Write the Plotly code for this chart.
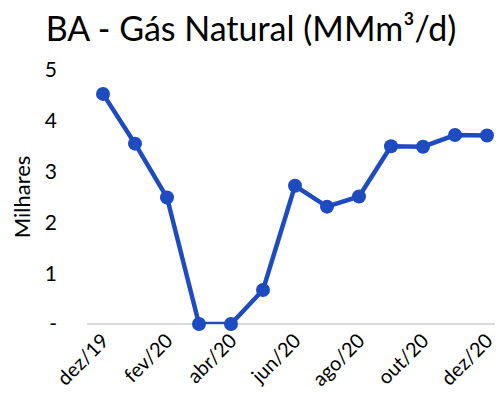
import plotly.graph_objects as go

categories = ["dez/19", "jan/20", "fev/20", "mar/20", "abr/20", "mai/20", "jun/20",
              "jul/20", "ago/20", "set/20", "out/20", "nov/20", "dez/20"]
values = [4.53, 3.55, 2.49, 0.0, 0.0, 0.67, 2.72, 2.31, 2.51, 3.50, 3.49, 3.72, 3.71]
y_tickvals = [0, 1, 2, 3, 4, 5]
y_ticktext = ["-", "1", "2", "3", "4", "5"]
x_tick_labels = categories[::2]

FONT = "Lato"
COLOR = "#1E4BC0"

fig = go.Figure()
fig.add_trace(go.Scatter(
    x=categories, y=values, mode="lines+markers",
    line=dict(color=COLOR, width=4.5),
    marker=dict(color=COLOR, size=14),
    cliponaxis=False, showlegend=False,
))

# page body has an 8px default margin; figure sized to fill the rest of the window
fig.update_layout(
    width=495, height=397,
    margin=dict(l=79, r=0, t=62, b=81),
    paper_bgcolor="white", plot_bgcolor="white",
    font=dict(family=FONT, color="#000000"),
    title=dict(text="BA - Gás Natural (MMm³/d)", x=0.491, xanchor="center",
               y=0.948, yanchor="middle", yref="container",
               font=dict(size=34, family=FONT, color="#000000")),
)
fig.update_xaxes(
    type="category", range=[-0.5, 12.5], automargin=False,
    tickmode="array", tickvals=x_tick_labels, ticktext=x_tick_labels,
    tickangle=-45, tickfont=dict(size=20),
    showgrid=False, showline=False, zeroline=False, ticks="",
)
fig.update_yaxes(
    range=[0, 5], automargin=False, tickmode="array", tickvals=y_tickvals, ticktext=y_ticktext,
    tickfont=dict(size=21), showgrid=False, showline=False,
    zeroline=True, zerolinecolor="#D9D9D9", zerolinewidth=1.5,
    ticks="", ticklabelstandoff=29,
    title=dict(text="Milhares", font=dict(size=22), standoff=13),
)

fig.write_html("out.html")
